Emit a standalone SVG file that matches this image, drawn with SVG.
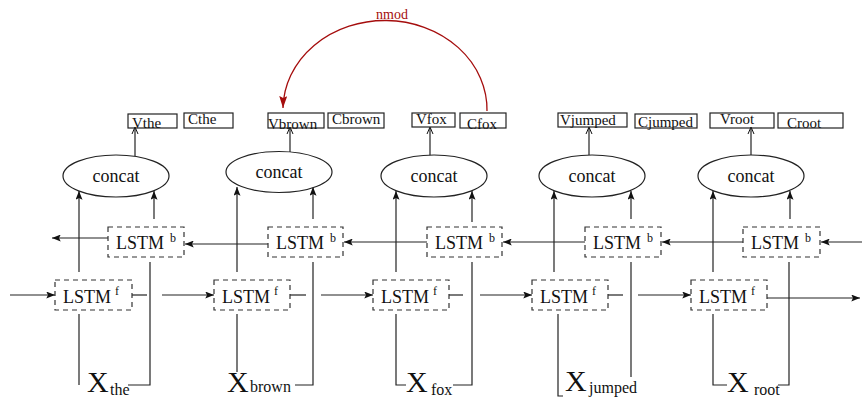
<svg xmlns="http://www.w3.org/2000/svg" width="862" height="398" viewBox="0 0 862 398">
<defs>
<style>
text { font-family: "Liberation Serif", "Times New Roman", serif; fill: #111; }
.ln { stroke: #222; stroke-width: 1.2; fill: none; }
.oh { stroke: #111; stroke-width: 1; fill: none; }
.dash { fill: none; stroke: #333; stroke-width: 1.2; stroke-dasharray: 5 4; }
.box { fill: none; stroke: #222; stroke-width: 1.2; }
.ell { fill: #fff; stroke: #222; stroke-width: 1.2; }
.lb { font-size: 15px; }
.lstm { font-size: 18px; }
.sup { font-size: 12px; }
.cc { font-size: 18px; text-anchor: middle; }
.xl { font-size: 30px; }
.xs { font-size: 16px; }
.red { stroke: #a50d0d; stroke-width: 1.3; fill: none; }
</style>
<marker id="ah" viewBox="0 0 10 8" refX="10" refY="4" markerWidth="10" markerHeight="7" orient="auto" markerUnits="userSpaceOnUse">
<path d="M0,0 L10,4 L0,8 L2,4 z" fill="#111"/>
</marker>
<marker id="rh" viewBox="0 0 12 8" refX="12" refY="4" markerWidth="12" markerHeight="8" orient="auto" markerUnits="userSpaceOnUse">
<path d="M0,0 L12,4 L0,8 L2,4 z" fill="#a50d0d"/>
</marker>
</defs>
<rect width="862" height="398" fill="#fff"/>

<g id="connectors">
  <!-- concat -> V (open arrowheads) -->
  <path class="ln" d="M135,156 V128"/>
  <path class="oh" d="M132,134 L135,127 L138,134"/>
  <path class="ln" d="M290,152 V128"/>
  <path class="oh" d="M287,134 L290,127 L293,134"/>
  <path class="ln" d="M430,156 V128"/>
  <path class="oh" d="M427,134 L430,127 L433,134"/>
  <path class="ln" d="M589,155 V128"/>
  <path class="oh" d="M586,134 L589,127 L592,134"/>
  <path class="ln" d="M751,155 V128"/>
  <path class="oh" d="M748,134 L751,127 L754,134"/>

  <!-- into concat (left, from above LSTM f) -->
  <line class="ln" x1="79" y1="272" x2="79" y2="191" marker-end="url(#ah)"/>
  <line class="ln" x1="237" y1="272" x2="237" y2="187" marker-end="url(#ah)"/>
  <line class="ln" x1="396" y1="272" x2="396" y2="191" marker-end="url(#ah)"/>
  <line class="ln" x1="554" y1="272" x2="554" y2="191" marker-end="url(#ah)"/>
  <line class="ln" x1="713" y1="272" x2="713" y2="191" marker-end="url(#ah)"/>
  <!-- into concat (right, from above LSTM b) -->
  <line class="ln" x1="154" y1="219" x2="154" y2="191" marker-end="url(#ah)"/>
  <line class="ln" x1="313" y1="219" x2="313" y2="187" marker-end="url(#ah)"/>
  <line class="ln" x1="472" y1="222" x2="472" y2="191" marker-end="url(#ah)"/>
  <line class="ln" x1="631" y1="219" x2="631" y2="191" marker-end="url(#ah)"/>
  <line class="ln" x1="790" y1="219" x2="790" y2="191" marker-end="url(#ah)"/>

  <!-- backward LSTM chain -->
  <line class="ln" x1="108" y1="238" x2="52" y2="238" marker-end="url(#ah)"/>
  <line class="ln" x1="268" y1="244" x2="185" y2="244" marker-end="url(#ah)"/>
  <line class="ln" x1="427" y1="242" x2="344" y2="242" marker-end="url(#ah)"/>
  <line class="ln" x1="585" y1="242" x2="503" y2="242" marker-end="url(#ah)"/>
  <line class="ln" x1="743" y1="242" x2="662" y2="242" marker-end="url(#ah)"/>
  <line class="ln" x1="862" y1="242" x2="821" y2="242" marker-end="url(#ah)"/>

  <!-- forward LSTM chain -->
  <line class="ln" x1="10" y1="295" x2="55" y2="295" marker-end="url(#ah)"/>
  <line class="ln" x1="132" y1="295" x2="147" y2="295"/>
  <line class="ln" x1="162" y1="295" x2="214" y2="295" marker-end="url(#ah)"/>
  <line class="ln" x1="290" y1="295" x2="306" y2="295"/>
  <line class="ln" x1="321" y1="295" x2="373" y2="295" marker-end="url(#ah)"/>
  <line class="ln" x1="449" y1="295" x2="463" y2="295"/>
  <line class="ln" x1="480" y1="295" x2="532" y2="295" marker-end="url(#ah)"/>
  <line class="ln" x1="608" y1="295" x2="623" y2="295"/>
  <line class="ln" x1="638" y1="295" x2="691" y2="295" marker-end="url(#ah)"/>
  <line class="ln" x1="767" y1="298" x2="860" y2="298" marker-end="url(#ah)"/>

  <!-- input lines from X to LSTM f (left) and LSTM b (right) -->
  <path class="ln" d="M79,314 V385"/>
  <path class="ln" d="M128,385 H150 V262"/>
  <path class="ln" d="M237,314 V372"/>
  <path class="ln" d="M295,385 H313 V262"/>
  <path class="ln" d="M396,314 V385 H406"/>
  <path class="ln" d="M453,385 H472 V262"/>
  <path class="ln" d="M558,314 V396 H563"/>
  <path class="ln" d="M631,262 V377"/>
  <path class="ln" d="M713,314 V385 H727"/>
  <path class="ln" d="M778,385 H789 V262"/>

  <!-- nmod arc -->
  <path class="red" d="M487,111 A102 89 0 0 0 283,108" marker-end="url(#rh)"/>
  <text x="392" y="19" font-size="14" text-anchor="middle" style="fill:#a50d0d">nmod</text>
</g>

<!-- the -->
<g id="concat_the"><ellipse class="ell" cx="116" cy="176" rx="53" ry="21"/><text class="cc" x="116" y="182">concat</text></g>
<g id="V_the"><rect class="box" x="128" y="114" width="49" height="14"/><text class="lb" x="132" y="128">Vthe</text></g>
<g id="C_the"><rect class="box" x="184" y="113" width="49" height="15"/><text class="lb" x="188" y="124">Cthe</text></g>
<g id="lstmb_the"><rect class="dash" x="108" y="227" width="76" height="30"/><text class="lstm" x="116" y="249">LSTM</text><text class="sup" x="170" y="242">b</text></g>
<g id="lstmf_the"><rect class="dash" x="55" y="280" width="77" height="30"/><text class="lstm" x="63" y="303">LSTM</text><text class="sup" x="115" y="295">f</text></g>
<g id="x_the"><text class="xl" x="87" y="392">X</text><text class="xs" x="110" y="395">the</text></g>

<!-- brown -->
<g id="concat_brown"><ellipse class="ell" cx="279" cy="172" rx="53" ry="20.5"/><text class="cc" x="279" y="178">concat</text></g>
<g id="V_brown"><rect class="box" x="268" y="113" width="56" height="15"/><text class="lb" x="268" y="128.5">Vbrown</text></g>
<g id="C_brown"><rect class="box" x="328" y="113" width="56" height="15"/><text class="lb" x="332" y="124">Cbrown</text></g>
<g id="lstmb_brown"><rect class="dash" x="268" y="227" width="75" height="30"/><text class="lstm" x="276" y="249">LSTM</text><text class="sup" x="330" y="242">b</text></g>
<g id="lstmf_brown"><rect class="dash" x="214" y="280" width="76" height="30"/><text class="lstm" x="222" y="303">LSTM</text><text class="sup" x="274" y="295">f</text></g>
<g id="x_brown"><text class="xl" x="227" y="392">X</text><text class="xs" x="250" y="392">brown</text></g>

<!-- fox -->
<g id="concat_fox"><ellipse class="ell" cx="434" cy="176" rx="53" ry="21"/><text class="cc" x="434" y="182">concat</text></g>
<g id="V_fox"><rect class="box" x="412" y="113" width="43" height="14"/><text class="lb" x="416" y="124">Vfox</text></g>
<g id="C_fox"><rect class="box" x="460" y="113" width="46" height="15"/><text class="lb" x="467" y="129">Cfox</text></g>
<g id="lstmb_fox"><rect class="dash" x="427" y="227" width="75" height="30"/><text class="lstm" x="435" y="249">LSTM</text><text class="sup" x="489" y="242">b</text></g>
<g id="lstmf_fox"><rect class="dash" x="373" y="280" width="76" height="30"/><text class="lstm" x="381" y="303">LSTM</text><text class="sup" x="433" y="295">f</text></g>
<g id="x_fox"><text class="xl" x="406" y="392">X</text><text class="xs" x="431" y="395">fox</text></g>

<!-- jumped -->
<g id="concat_jumped"><ellipse class="ell" cx="592" cy="176" rx="53" ry="21"/><text class="cc" x="592" y="182">concat</text></g>
<g id="V_jumped"><rect class="box" x="558" y="113" width="69" height="14"/><text class="lb" x="560" y="125">Vjumped</text></g>
<g id="C_jumped"><rect class="box" x="635" y="114" width="62" height="14"/><text class="lb" x="638" y="127">Cjumped</text></g>
<g id="lstmb_jumped"><rect class="dash" x="585" y="227" width="76" height="30"/><text class="lstm" x="593" y="249">LSTM</text><text class="sup" x="647" y="242">b</text></g>
<g id="lstmf_jumped"><rect class="dash" x="532" y="280" width="76" height="30"/><text class="lstm" x="540" y="303">LSTM</text><text class="sup" x="592" y="295">f</text></g>
<g id="x_jumped"><text class="xl" x="565" y="391">X</text><text class="xs" x="589" y="393">jumped</text></g>

<!-- root -->
<g id="concat_root"><ellipse class="ell" cx="751" cy="176" rx="53" ry="21"/><text class="cc" x="751" y="182">concat</text></g>
<g id="V_root"><rect class="box" x="710" y="113" width="64" height="15"/><text class="lb" x="720" y="124">Vroot</text></g>
<g id="C_root"><rect class="box" x="778" y="113" width="65" height="15"/><text class="lb" x="787" y="128">Croot</text></g>
<g id="lstmb_root"><rect class="dash" x="743" y="227" width="77" height="30"/><text class="lstm" x="751" y="249">LSTM</text><text class="sup" x="805" y="242">b</text></g>
<g id="lstmf_root"><rect class="dash" x="691" y="280" width="76" height="30"/><text class="lstm" x="699" y="303">LSTM</text><text class="sup" x="751" y="295">f</text></g>
<g id="x_root"><text class="xl" x="727" y="392">X</text><text class="xs" x="754" y="395">root</text></g>
</svg>
